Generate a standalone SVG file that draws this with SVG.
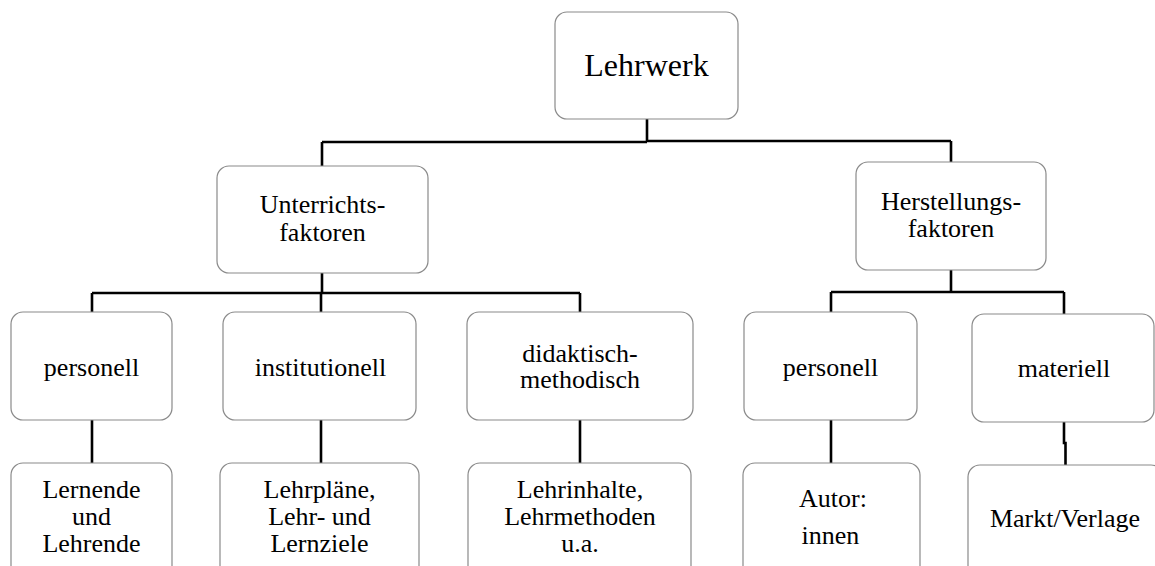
<svg xmlns="http://www.w3.org/2000/svg" width="1155" height="566" viewBox="0 0 1155 566" font-family="Liberation Serif, serif">
<style>
.box{fill:#fff;stroke:#8a8a8a;stroke-width:1.2}
.t{font-size:26px;fill:#000;text-anchor:middle}
.big{font-size:32px}
.c{fill:none;stroke:#000;stroke-width:2.6}
</style>
<rect width="1155" height="566" fill="#fff"/>
<g id="connectors">
<path class="c" d="M647 119V142M322 142H647M647 141H951M322 142V166M951 141V162"/>
<path class="c" d="M322 273V293M92 293H580M92 293V312M321 293V312M580 293V312"/>
<path class="c" d="M951 270V292M831 292H1064M831 292V312M1064 292V314"/>
<path class="c" d="M92 420V463M321 420V463M580 420V463M831 420V463M1064 422V443H1065.5V465"/>
</g>
<g id="n-lehrwerk"><rect class="box" x="555" y="12" width="183" height="107" rx="12"/><text class="t big" x="646.5" y="76">Lehrwerk</text></g>
<g id="n-unterricht"><rect class="box" x="217" y="166" width="211" height="107" rx="12"/><text class="t" x="322.5" y="213">Unterrichts-</text><text class="t" x="322.5" y="241">faktoren</text></g>
<g id="n-herstellung"><rect class="box" x="856" y="162" width="190" height="108" rx="12"/><text class="t" x="951" y="210">Herstellungs-</text><text class="t" x="951" y="237">faktoren</text></g>
<g id="n-personell1"><rect class="box" x="11" y="312" width="161" height="108" rx="12"/><text class="t" x="91.5" y="376">personell</text></g>
<g id="n-institutionell"><rect class="box" x="223" y="312" width="193" height="108" rx="12"/><text class="t" x="320.5" y="376">institutionell</text></g>
<g id="n-didaktisch"><rect class="box" x="467" y="312" width="226" height="108" rx="12"/><text class="t" x="580" y="362">didaktisch-</text><text class="t" x="580" y="388">methodisch</text></g>
<g id="n-personell2"><rect class="box" x="744" y="312" width="173" height="108" rx="12"/><text class="t" x="830.5" y="376">personell</text></g>
<g id="n-materiell"><rect class="box" x="972" y="314" width="182" height="108" rx="12"/><text class="t" x="1064" y="377">materiell</text></g>
<g id="n-lernende"><rect class="box" x="11" y="463" width="161" height="120" rx="12"/><text class="t" x="91.5" y="498">Lernende</text><text class="t" x="91.5" y="525">und</text><text class="t" x="91.5" y="552">Lehrende</text></g>
<g id="n-lehrplaene"><rect class="box" x="220" y="463" width="199" height="120" rx="12"/><text class="t" x="319.5" y="498">Lehrpläne,</text><text class="t" x="319.5" y="525">Lehr- und</text><text class="t" x="319.5" y="552">Lernziele</text></g>
<g id="n-lehrinhalte"><rect class="box" x="468" y="463" width="223" height="120" rx="12"/><text class="t" x="580" y="498">Lehrinhalte,</text><text class="t" x="580" y="525">Lehrmethoden</text><text class="t" x="580" y="552">u.a.</text></g>
<g id="n-autor"><rect class="box" x="743" y="463" width="177" height="120" rx="12"/><text class="t" x="833" y="507">Autor:</text><text class="t" x="830.5" y="544">innen</text></g>
<g id="n-markt"><rect class="box" x="968" y="465" width="195" height="120" rx="12"/><text class="t" x="1065" y="527">Markt/Verlage</text></g>
</svg>
